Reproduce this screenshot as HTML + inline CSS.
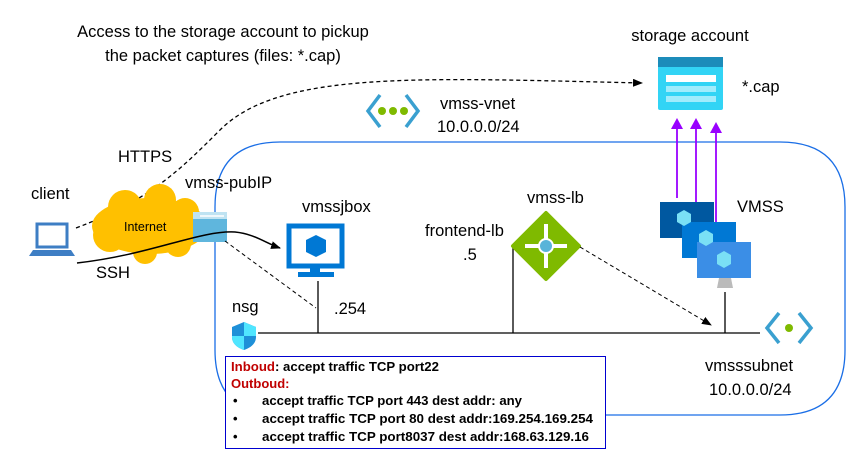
<!DOCTYPE html>
<html><head><style>
body{margin:0;background:#fff;width:853px;height:454px;overflow:hidden;font-family:"Liberation Sans",sans-serif}
svg{position:absolute;left:0;top:0}
</style></head><body>
<svg width="853" height="454" viewBox="0 0 853 454" font-family="Liberation Sans, sans-serif">
<defs>
<marker id="ah" markerWidth="10" markerHeight="8" refX="9" refY="4" orient="auto" markerUnits="userSpaceOnUse"><path d="M0,0 L10,4 L0,8 Z" fill="#000"/></marker>
</defs>
<path d="M280,142 H780 Q845,142 845,207 V350 Q845,415 780,415 H280 Q215,415 215,350 V207 Q215,142 280,142 Z" fill="none" stroke="#1a6ee6" stroke-width="1.3"/>
<g font-size="16.5">
<text x="223" y="37" text-anchor="middle">Access to the storage account to pickup</text>
<text x="223" y="61" text-anchor="middle">the packet captures (files: *.cap)</text>
<text x="690" y="41" text-anchor="middle">storage account</text>
<text x="742" y="92">*.cap</text>
<text x="440" y="109">vmss-vnet</text>
<text x="437" y="132">10.0.0.0/24</text>
<text x="118" y="162">HTTPS</text>
<text x="31" y="199">client</text>
<text x="185" y="188">vmss-pubIP</text>
<text x="302" y="212">vmssjbox</text>
<text x="527" y="203">vmss-lb</text>
<text x="425" y="236">frontend-lb</text>
<text x="463" y="260">.5</text>
<text x="737" y="212">VMSS</text>
<text x="96" y="278">SSH</text>
<text x="334" y="314">.254</text>
<text x="232" y="312">nsg</text>
<text x="705" y="371">vmsssubnet</text>
<text x="709" y="395">10.0.0.0/24</text>
</g>
<path d="M76,228 C150,200 180,170 220,130 C280,70 420,78 642,83" fill="none" stroke="#000" stroke-width="1.3" stroke-dasharray="4,3" marker-end="url(#ah)"/>
<g fill="#ffc000">
<ellipse cx="150" cy="226" rx="58" ry="28"/>
<circle cx="125" cy="207" r="17"/><circle cx="160" cy="200" r="16"/><circle cx="185" cy="212" r="14"/>
<circle cx="110" cy="235" r="17"/><circle cx="145" cy="252" r="12"/><circle cx="178" cy="244" r="13"/>
</g>
<text x="124" y="231" font-size="12.5">Internet</text>
<rect x="37" y="224" width="30" height="23" fill="none" stroke="#3e7ec4" stroke-width="3"/>
<path d="M29,256 L33,250 H71 L75,256 Z" fill="#3e7ec4"/>
<rect x="193" y="212" width="34" height="30" fill="#5fb6dd"/>
<rect x="193" y="212" width="34" height="7" fill="#bfe3f2"/>
<line x1="200" y1="216" x2="224" y2="216" stroke="#fff" stroke-width="1.5"/>
<path d="M77,263 C150,255 200,230 235,232 C255,234 265,243 280,248" fill="none" stroke="#000" stroke-width="1.5" marker-end="url(#ah)"/>
<line x1="225" y1="241" x2="316" y2="308" stroke="#000" stroke-width="1" stroke-dasharray="4,3"/>
<rect x="289" y="226" width="53" height="40" fill="none" stroke="#0078d4" stroke-width="5"/>
<rect x="310" y="266" width="10" height="6" fill="#0078d4"/>
<rect x="298" y="272" width="36" height="5" fill="#0078d4"/>
<path d="M316,235 L326,240 L326,252 L316,257 L306,252 L306,240 Z" fill="#0078d4"/>
<line x1="318" y1="281" x2="318" y2="333" stroke="#000" stroke-width="1.3"/>
<line x1="258" y1="333" x2="760" y2="333" stroke="#000" stroke-width="1.3"/>
<line x1="513" y1="246" x2="513" y2="333" stroke="#000" stroke-width="1.3"/>
<line x1="725" y1="292" x2="725" y2="333" stroke="#000" stroke-width="1.3"/>
<path d="M546,213 L579,246 L546,279 L513,246 Z" fill="#7fba00" stroke="#7fba00" stroke-width="4" stroke-linejoin="round"/>
<g stroke="#fff" stroke-width="4" fill="none"><line x1="546" y1="224" x2="546" y2="268"/><line x1="525" y1="246" x2="567" y2="246"/></g>
<circle cx="546" cy="246" r="7" fill="#59b4d9" stroke="#fff" stroke-width="2"/>
<line x1="580" y1="247" x2="711" y2="325" stroke="#000" stroke-width="1" stroke-dasharray="4,3" marker-end="url(#ah)"/>
<rect x="658" y="57" width="65" height="53" rx="2" fill="#32d4f5"/>
<rect x="658" y="57" width="65" height="10" fill="#1c8cba"/>
<rect x="666" y="75" width="50" height="7" fill="#fff"/>
<rect x="666" y="86" width="50" height="6" fill="#a0ecfc"/>
<rect x="666" y="96" width="50" height="6" fill="#a0ecfc"/>
<g stroke="#9900ff" stroke-width="1.8">
<line x1="677" y1="198" x2="677" y2="126"/><line x1="696" y1="215" x2="696" y2="126"/><line x1="716" y1="222" x2="716" y2="130"/>
</g>
<g fill="#9900ff"><path d="M671,129 L677,118 L683,129Z"/><path d="M690,129 L696,118 L702,129Z"/><path d="M710,133 L716,122 L722,133Z"/></g>
<rect x="660" y="202" width="54" height="36" fill="#0058a0"/>
<rect x="682" y="222" width="54" height="36" fill="#0078d4"/>
<rect x="697" y="242" width="54" height="36" fill="#3b8ee6"/>
<path d="M719,278 L731,278 L733,288 L717,288 Z" fill="#bbb"/>
<path d="M684,210 L691,214 L691,222 L684,226 L677,222 L677,214Z" fill="#7ae0f5"/>
<path d="M706,230 L713,234 L713,242 L706,246 L699,242 L699,234Z" fill="#7ae0f5"/>
<path d="M724,251 L731,255 L731,264 L724,268 L717,264 L717,255Z" fill="#7ae0f5"/>
<g fill="none" stroke="#3aa0d0" stroke-width="3.5"><path d="M380,95 L368,111 L380,127"/><path d="M406,95 L418,111 L406,127"/></g>
<g fill="#7fba00"><circle cx="382" cy="111" r="4"/><circle cx="393" cy="111" r="4"/><circle cx="404" cy="111" r="4"/></g>
<g fill="none" stroke="#3aa0d0" stroke-width="3.5"><path d="M779,313 L767,328 L779,343"/><path d="M799,313 L811,328 L799,343"/></g>
<circle cx="789" cy="328" r="4" fill="#7fba00"/>
<path d="M244,322 L256,327 L256,337 C256,344 250,348 244,350 C238,348 232,344 232,337 L232,327 Z" fill="#1e90d8"/>
<path d="M244,322 L256,327 L256,336 L244,336 Z" fill="#50e6ff"/>
<path d="M232,336 L244,336 L244,350 C238,348 232,344 232,337Z" fill="#50e6ff"/>
<rect x="225.5" y="356.5" width="380" height="92" fill="#fff" stroke="#0000d0" stroke-width="1"/>
<g font-size="13" font-weight="bold">
<text x="231" y="371" textLength="208" lengthAdjust="spacingAndGlyphs"><tspan fill="#c00000">Inboud</tspan>: accept traffic TCP port22</text>
<text x="231" y="388" fill="#c00000">Outboud:</text>
<text x="233" y="405">•</text><text x="262" y="405" textLength="260" lengthAdjust="spacingAndGlyphs">accept traffic TCP port 443 dest addr: any</text>
<text x="233" y="423">•</text><text x="262" y="423" textLength="331" lengthAdjust="spacingAndGlyphs">accept traffic TCP port 80 dest addr:169.254.169.254</text>
<text x="233" y="441">•</text><text x="262" y="441" textLength="327" lengthAdjust="spacingAndGlyphs">accept traffic TCP port8037 dest addr:168.63.129.16</text>
</g>
</svg>
</body></html>
